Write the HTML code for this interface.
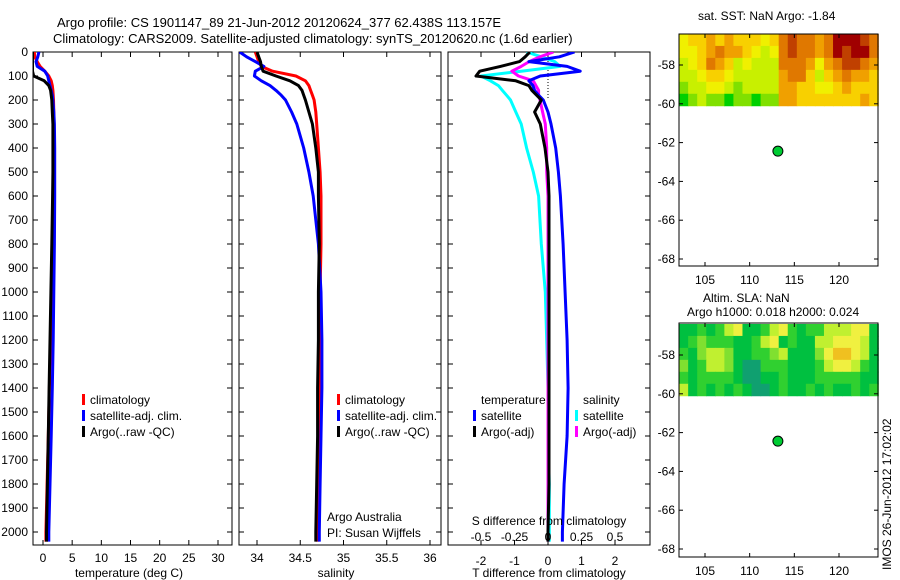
<!DOCTYPE html>
<html><head><meta charset="utf-8">
<style>
body{margin:0;background:#fff;width:900px;height:580px;overflow:hidden}
svg{display:block}
text{font-family:"Liberation Sans",sans-serif;font-size:12px;fill:#000}
</style></head>
<body>
<svg id="s" width="900" height="580" xmlns="http://www.w3.org/2000/svg">
<text x="57" y="27" style="font-size:13px">Argo profile: CS 1901147_89 21-Jun-2012 20120624_377 62.438S 113.157E</text>
<text x="53" y="43" style="font-size:13px">Climatology: CARS2009. Satellite-adjusted climatology: synTS_20120620.nc (1.6d earlier)</text>
<text x="698" y="20">sat. SST: NaN Argo: -1.84</text>
<text x="703" y="302">Altim. SLA: NaN</text>
<text x="687" y="316">Argo h1000: 0.018 h2000: 0.024</text>
<text transform="translate(891,570) rotate(-90)">IMOS 26-Jun-2012 17:02:02</text>
</svg>
<script>
// ---- data ----
const depth = [0,20,40,60,80,100,120,140,160,180,200,250,300,400,500,600,800,1000,1200,1400,1600,1800,2000,2040];
const tempClim = [-1.5,-1.4,-1.0,-0.5,0.3,1.0,1.4,1.6,1.7,1.75,1.8,1.85,1.85,1.8,1.75,1.7,1.6,1.5,1.3,1.1,0.9,0.7,0.5,0.5];
const tempSat = [-0.7,-0.9,-1.2,-1.0,0.3,0.8,1.0,1.2,1.4,1.6,1.7,1.85,1.95,2.0,2.0,2.0,1.95,1.85,1.75,1.6,1.4,1.2,1.0,1.0];
const tempArgo = [-1.8,-1.8,-1.8,-1.8,-1.8,-1.6,0.2,1.0,1.3,1.4,1.5,1.6,1.7,1.7,1.7,1.65,1.5,1.35,1.2,1.05,0.9,0.75,0.6,0.6];
const salClim = [33.98,34.0,34.02,34.05,34.18,34.45,34.56,34.6,34.62,34.64,34.66,34.68,34.69,34.71,34.73,34.74,34.74,34.73,34.73,34.72,34.72,34.71,34.70,34.70];
const salSat = [33.8,33.88,33.98,34.08,33.98,33.97,34.05,34.15,34.22,34.28,34.33,34.4,34.46,34.54,34.6,34.65,34.71,34.74,34.75,34.75,34.74,34.73,34.72,34.72];
const salArgo = [34.0,34.02,34.04,34.05,34.07,34.22,34.38,34.48,34.52,34.54,34.56,34.6,34.64,34.68,34.71,34.71,34.72,34.71,34.71,34.70,34.70,34.69,34.68,34.68];
const tDiffSat = [0.79,0.34,-0.57,0.57,0.96,-0.23,-0.57,-0.45,-0.4,-0.28,-0.14,0,0.09,0.23,0.31,0.37,0.45,0.51,0.57,0.6,0.57,0.48,0.43,0.43];
const tDiffArgo = [-0.54,-0.68,-0.85,-1.42,-2.04,-2.15,-0.96,-0.57,-0.48,-0.34,-0.2,-0.4,-0.23,-0.09,0,0.03,0.03,0.03,0.03,0.03,0.03,0.03,0,0];
const sDiffSat = [-0.16,-0.05,0.05,0.09,-0.2,-0.5,-0.43,-0.37,-0.34,-0.31,-0.28,-0.24,-0.2,-0.16,-0.11,-0.07,-0.05,-0.02,-0.01,0.0,0.0,0.01,0.01,0.01];
const sDiffArgo = [0.04,-0.06,-0.14,-0.2,-0.27,-0.22,-0.11,-0.09,-0.07,-0.07,-0.06,-0.04,-0.02,-0.01,-0.01,0.0,0.0,0.0,0.0,0.0,0.0,0.0,0.0,0.0];
const depthTicks = [0,100,200,300,400,500,600,700,800,900,1000,1100,1200,1300,1400,1500,1600,1700,1800,1900,2000];
const tempTicks = [0,5,10,15,20,25,30];
const salTicks = [34,34.5,35,35.5,36];
const salTickLabels = ["34","34.5","35","35.5","36"];
const tdTicks = [-2,-1,0,1,2];
const sdTicks = [-0.5,-0.25,0,0.25,0.5];
const sdTickLabels = ["-0.5","-0.25","0","0.25","0.5"];
const lonTicks = [105,110,115,120];
const latTicks = [-58,-60,-62,-64,-66,-68];
const argoLon = 113.16, argoLat = -62.44;
const sstRows = ["3445454443467665688876","3345655432367665687886","2346542322266653567765","2234432222256642456554","1223321222255443345444","0121101101155444444454"];
const slaRows = ["1121245112452122444551","1232221124512114455541","2134431122341113566541","3124431002221112455421","2122221001121112222211","4121212100121121211212"];
const sstPal = ["#00d000","#80e000","#c8f000","#f0f000","#f8d000","#f0a000","#e07800","#c04000","#a00000"];
const slaPal = ["#10a070","#00c040","#30d030","#80e030","#c0f030","#f0f040","#f0c020"];

// ---- helpers ----
const NS="http://www.w3.org/2000/svg", svg=document.getElementById('s');
function mk(t,a,p){const e=document.createElementNS(NS,t);for(const k in a)e.setAttribute(k,a[k]);(p||svg).appendChild(e);return e;}
function lin(d0,d1,r0,r1){return v=>r0+(v-d0)*(r1-r0)/(d1-d0);}
const yD = lin(0,2000,52,532);
const P1={l:33,r:232,t:52,b:545}, P2={l:239,r:441,t:52,b:545}, P3={l:448,r:650,t:52,b:545};
const xT = lin(0,30,43,218), xS = lin(34,36,257,430), xTd = lin(0,1,548,581.5), xSd = lin(0,0.25,548,581.5);

function frame(P,name){
  const r=mk('rect',{x:P.l,y:P.t,width:P.r-P.l,height:P.b-P.t,fill:'none',stroke:'#000','stroke-width':1});
  
  
  depthTicks.forEach(d=>{const y=yD(d);
    const t1=mk('line',{x1:P.l,x2:P.l+5,y1:y,y2:y,stroke:'#000'});
    
    
    const t2=mk('line',{x1:P.r-5,x2:P.r,y1:y,y2:y,stroke:'#000'});
    
    
  });
}
function xticks(P,ticks,sc,labels,ly){
  ticks.forEach((v,i)=>{const x=sc(v);
    const a=mk('line',{x1:x,x2:x,y1:P.b,y2:P.b-5,stroke:'#000'});
    
    
    const b=mk('line',{x1:x,x2:x,y1:P.t,y2:P.t+5,stroke:'#000'});
    
    
    if(labels){const t=mk('text',{x:x,y:ly,'text-anchor':'middle'});t.textContent=labels[i];
      
      }
  });
}
function curve(vals,sc,color,name,clip){
  const pts=vals.map((v,i)=>sc(v).toFixed(1)+','+yD(depth[i]).toFixed(1)).join(' ');
  const p=mk('polyline',{points:pts,fill:'none',stroke:color,'stroke-width':3,'stroke-linejoin':'round','clip-path':'url(#'+clip+')'});
  
  
}
function label(x,y,txt,name,anchor){const t=mk('text',{x:x,y:y,'text-anchor':anchor||'start'});t.textContent=txt;
  
  return t;}
function legend(x,y,color,txt,name){
  const r=mk('rect',{x:x,y:y-10,width:3,height:11,fill:color});
  
  
  label(x+8,y,txt,name);
}

const defs=mk('defs',{});
[['c1',P1],['c2',P2],['c3',P3]].forEach(([id,P])=>{const c=mk('clipPath',{id:id},defs);mk('rect',{x:P.l,y:P.t,width:P.r-P.l,height:P.b-P.t},c);});

// panel 1
frame(P1,'temperature-panel');
depthTicks.forEach(d=>label(28,yD(d)+4,String(d),'depth-tick-label','end'));
xticks(P1,tempTicks,xT,tempTicks.map(String),562);
label(129,577,'temperature (deg C)','temperature-axis-title','middle');
curve(tempClim,xT,'#ff0000','temp-climatology-line','c1');
curve(tempSat,xT,'#0000ff','temp-satellite-line','c1');
curve(tempArgo,xT,'#000000','temp-argo-line','c1');
legend(82,404,'#ff0000','climatology','legend-climatology-1');
legend(82,420,'#0000ff','satellite-adj. clim.','legend-satellite-1');
legend(82,436,'#000000','Argo(..raw -QC)','legend-argo-1');

// panel 2
frame(P2,'salinity-panel');
xticks(P2,salTicks,xS,salTickLabels,562);
label(336,577,'salinity','salinity-axis-title','middle');
curve(salClim,xS,'#ff0000','sal-climatology-line','c2');
curve(salSat,xS,'#0000ff','sal-satellite-line','c2');
curve(salArgo,xS,'#000000','sal-argo-line','c2');
legend(337,404,'#ff0000','climatology','legend-climatology-2');
legend(337,420,'#0000ff','satellite-adj. clim.','legend-satellite-2');
legend(337,436,'#000000','Argo(..raw -QC)','legend-argo-2');
label(327,521,'Argo Australia','argo-australia-note');
label(327,537,'PI: Susan Wijffels','pi-note');

// panel 3
frame(P3,'difference-panel');
xticks(P3,tdTicks,xTd,tdTicks.map(String),565);
const zl=mk('line',{x1:xTd(0),x2:xTd(0),y1:P3.t,y2:yD(200),stroke:'#000','stroke-dasharray':'1,2'});


curve(sDiffSat,xSd,'#00ffff','sdiff-satellite-line','c3');
curve(sDiffArgo,xSd,'#ff00ff','sdiff-argo-line','c3');
curve(tDiffSat,xTd,'#0000ff','tdiff-satellite-line','c3');
curve(tDiffArgo,xTd,'#000000','tdiff-argo-line','c3');
label(481,404,'temperature','legend-temperature-heading');
label(583,404,'salinity','legend-salinity-heading');
legend(473,420,'#0000ff','satellite','legend-t-satellite');
legend(473,436,'#000000','Argo(-adj)','legend-t-argo');
legend(575,420,'#00ffff','satellite','legend-s-satellite');
legend(575,436,'#ff00ff','Argo(-adj)','legend-s-argo');
label(549,525,'S difference from climatology','s-diff-axis-title','middle');
sdTicks.forEach((v,i)=>label(xSd(v),541,sdTickLabels[i],'s-diff-tick-label','middle'));
label(549,577,'T difference from climatology','t-diff-axis-title','middle');

// maps
function map(M,rows,pal,name){
  const xL=lin(105,120,705,839), yL=lin(-58,-68,M.y58,M.y68);
  const g=mk('g',{});
  
  
  const nr=rows.length, nc=rows[0].length, lon0=102.1, lon1=124.4, lat0=-56.4, lat1=-60.1;
  const cw=(lon1-lon0)/nc, ch=(lat0-lat1)/nr;
  rows.forEach((row,ri)=>{for(let ci=0;ci<nc;ci++){
    const x0=xL(lon0+ci*cw), x1=xL(lon0+(ci+1)*cw), y0=yL(lat0-ri*ch), y1=yL(lat0-(ri+1)*ch);
    const c=mk('rect',{x:x0,y:y0,width:x1-x0+0.5,height:y1-y0+0.5,fill:pal[+row[ci]]},g);
    
    
  }});
  const f=mk('rect',{x:M.l,y:M.t,width:M.r-M.l,height:M.b-M.t,fill:'none',stroke:'#000'});
  
  
  lonTicks.forEach(v=>{const x=xL(v);
    const a=mk('line',{x1:x,x2:x,y1:M.b,y2:M.b-4,stroke:'#000'});
    
    
    const b=mk('line',{x1:x,x2:x,y1:M.t,y2:M.t+4,stroke:'#000'});
    
    
    label(x,M.b+18,String(v),'lon-tick-label','middle');});
  latTicks.forEach(v=>{const y=yL(v);
    const a=mk('line',{x1:M.l,x2:M.l+4,y1:y,y2:y,stroke:'#000'});
    
    
    const b=mk('line',{x1:M.r-4,x2:M.r,y1:y,y2:y,stroke:'#000'});
    
    
    label(M.l-4,y+4,String(v),'lat-tick-label','end');});
  const d=mk('circle',{cx:xL(argoLon),cy:yL(argoLat),r:5,fill:'#00cc33',stroke:'#000','stroke-width':1});
  
  
}
map({l:679,r:878,t:34,b:266,y58:65,y68:259},sstRows,sstPal,'sst-map');
map({l:679,r:878,t:323,b:557,y58:355,y68:549},slaRows,slaPal,'sla-map');
</script>
</body></html>
